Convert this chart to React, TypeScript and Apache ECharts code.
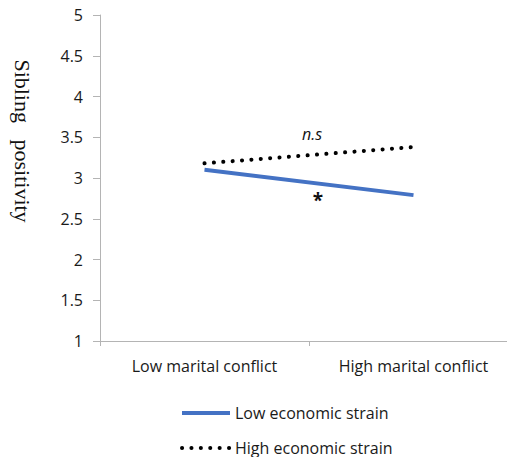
import React, { useEffect, useRef } from "react";
import * as echarts from "echarts";

const categories = ["Low marital conflict", "High marital conflict"];
const lowStrain = [3.1, 2.79];
const highStrain = [3.18, 3.38];
const seriesNames = ["Low economic strain", "High economic strain"];
const yTitle = "Sibling   positivity";

const sans = "'Open Sans', Lato, sans-serif";

const legendBase = {
  orient: "horizontal",
  left: 180,
  padding: 0,
  itemWidth: 48,
  itemHeight: 14,
  itemStyle: { opacity: 0 },
  lineStyle: { width: 4 },
  textStyle: { color: "#1a1a1a", fontSize: 16, fontFamily: sans, lineHeight: 16 },
};

export default function App() {
  const ref = useRef<HTMLDivElement>(null);
  useEffect(() => {
    const chart = echarts.init(ref.current!, null, { renderer: "svg" });
    chart.setOption({
      animation: false,
      backgroundColor: "#fff",
      grid: { left: 100, top: 15, width: 418, height: 326, outerBoundsMode: "none", containLabel: false },
      xAxis: {
        type: "category",
        data: categories,
        boundaryGap: true,
        axisLine: { lineStyle: { color: "#b4b4b4", width: 1 } },
        axisTick: { show: true, length: 5, lineStyle: { color: "#b4b4b4" } },
        axisLabel: { color: "#1a1a1a", fontSize: 16, fontFamily: sans, margin: 17 },
      },
      yAxis: {
        type: "value",
        min: 1,
        max: 5,
        interval: 0.5,
        splitLine: { show: false },
        axisLine: { show: true, lineStyle: { color: "#b4b4b4", width: 1 } },
        axisTick: { show: true, length: 7, lineStyle: { color: "#b4b4b4" } },
        axisLabel: { color: "#1a1a1a", fontSize: 16, fontFamily: sans, margin: 17 },
      },
      legend: [
        { ...legendBase, top: 405, data: [seriesNames[0]] },
        { ...legendBase, top: 440, data: [seriesNames[1]] },
      ],
      series: [
        {
          name: seriesNames[0],
          type: "line",
          data: lowStrain,
          symbol: "none",
          lineStyle: { color: "#4472C4", width: 4 },
          itemStyle: { color: "#4472C4" },
        },
        {
          name: seriesNames[1],
          type: "line",
          data: highStrain,
          symbol: "none",
          lineStyle: { color: "#000", width: 4, type: [0.1, 9.3], cap: "round" },
          itemStyle: { color: "#000" },
        },
      ],
      graphic: [
        {
          type: "text",
          x: 22,
          y: 141,
          rotation: -Math.PI / 2,
          style: {
            text: yTitle,
            fontFamily: "'Liberation Serif', 'Times New Roman', serif",
            fontSize: 22,
            fill: "#111",
            align: "center",
            verticalAlign: "middle",
          },
        },
        {
          type: "text",
          x: 312,
          y: 134,
          style: {
            text: "n.s",
            fontFamily: sans,
            fontStyle: "italic",
            fontSize: 16,
            fill: "#111",
            align: "center",
            verticalAlign: "middle",
          },
        },
        {
          type: "text",
          x: 318,
          y: 200,
          style: {
            text: "*",
            fontFamily: sans,
            fontSize: 19,
            fontWeight: "bold",
            fill: "#111",
            align: "center",
            verticalAlign: "middle",
          },
        },
      ],
    });
    return () => chart.dispose();
  }, []);
  return <div ref={ref} style={{ width: 507, height: 457, position: "absolute", left: 0, top: 0 }} />;
}
